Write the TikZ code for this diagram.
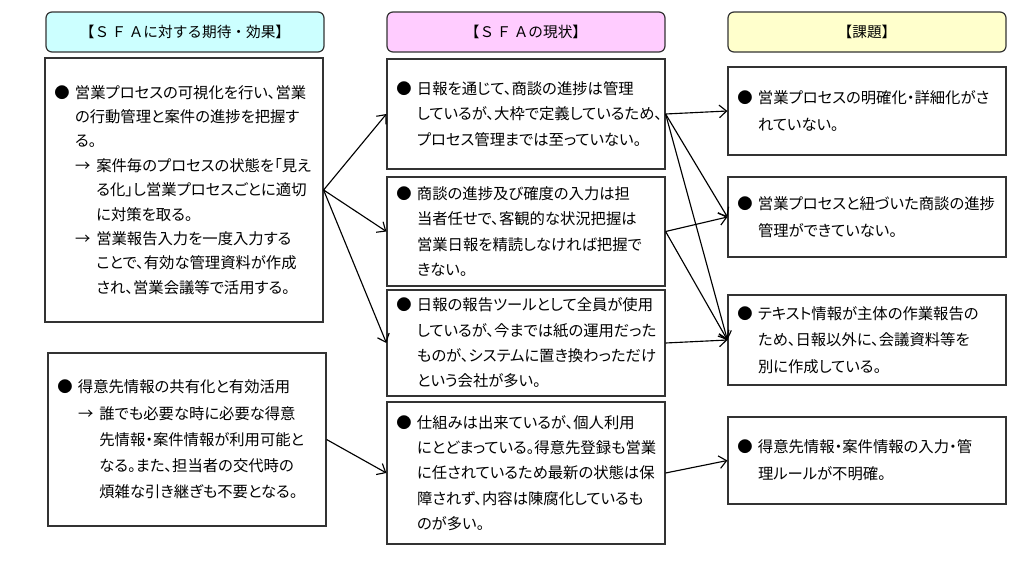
\documentclass[tikz,border=0pt]{standalone}
\usepackage{fontspec}
\setmainfont{Noto Sans CJK JP}[RawFeature=+palt]
\newfontfamily\jpfix{Noto Sans CJK JP}
\usetikzlibrary{arrows.meta}
\definecolor{hdcyan}{RGB}{204,255,255}
\definecolor{hdpink}{RGB}{255,204,255}
\definecolor{hdyellow}{RGB}{255,255,204}
\newcommand{\bul}{\makebox[15.5pt][l]{●}}
\newcommand{\ind}{\hspace*{15.5pt}}
\newcommand{\arr}{\hspace*{15.5pt}\makebox[16pt][l]{→}}
\newcommand{\ain}{\hspace*{31.5pt}}

\begin{document}
\begin{tikzpicture}[x=0.75pt,y=-0.75pt,
  head/.style={draw=black!80,line width=0.9pt,rounded corners=4.5pt,minimum width=208.5pt,minimum height=30pt,inner sep=0pt,font=\jpfix\fontsize{11pt}{14pt}\selectfont},
  box/.style={draw=black!80,line width=0.9pt,fill=white,inner xsep=7pt,inner ysep=0pt,text width=194.5pt,align=left,font=\fontsize{11.5pt}{19pt}\selectfont},
  rbox/.style={box,font=\fontsize{11.5pt}{20pt}\selectfont},
  link/.style={-{Straight Barb[length=5.5pt,width=9.5pt]},line width=0.85pt}]
\fill[white] (0,0) rectangle (1024,564);
\useasboundingbox (0,0) rectangle (1024,564);
% headers
\node[head,fill=hdcyan] (hexp) at (185,32) {【Ｓ\,Ｆ\,Ａに対する期待・効果】};
\node[head,fill=hdpink] (hnow) at (526,32) {【Ｓ\,Ｆ\,Ａの現状】};
\node[head,fill=hdyellow] (hiss) at (867,32) {【課題】};
% expectations
\node[box,minimum height=198pt,font=\fontsize{11.5pt}{18.3pt}\selectfont] (l1) at (184,190) {\bul 営業プロセスの可視化を行い、営業\\
\ind の行動管理と案件の進捗を把握す\\
\ind る。\\
\arr 案件毎のプロセスの状態を「見え\\
\ain る化」し営業プロセスごとに適切\\
\ain に対策を取る。\\
\arr 営業報告入力を一度入力する\\
\ain ことで、有効な管理資料が作成\\
\ain され、営業会議等で活用する。};
\node[box,minimum height=129.75pt,font=\fontsize{11.5pt}{19.7pt}\selectfont] (l2) at (187,439.5) {\bul 得意先情報の共有化と有効活用\\
\arr 誰でも必要な時に必要な得意\\
\ain 先情報・案件情報が利用可能と\\
\ain なる。また、担当者の交代時の\\
\ain 煩雑な引き継ぎも不要となる。};
% current state
\node[box,minimum height=82.5pt] (m1) at (526,114) {\bul 日報を通じて、商談の進捗は管理\\
\ind しているが、大枠で定義しているため、\\
\ind プロセス管理までは至っていない。};
\node[box,minimum height=81.75pt] (m2) at (526,231.5) {\bul 商談の進捗及び確度の入力は担\\
\ind 当者任せで、客観的な状況把握は\\
\ind 営業日報を精読しなければ把握で\\
\ind きない。};
\node[box,minimum height=79.5pt] (m3) at (526,343) {\bul 日報の報告ツールとして全員が使用\\
\ind しているが、今までは紙の運用だった\\
\ind ものが、システムに置き換わっただけ\\
\ind という会社が多い。};
\node[box,minimum height=106.5pt] (m4) at (526,473) {\bul 仕組みは出来ているが、個人利用\\
\ind にとどまっている。得意先登録も営業\\
\ind に任されているため最新の状態は保\\
\ind 障されず、内容は陳腐化しているも\\
\ind のが多い。};
% issues
\node[rbox,minimum height=66pt] (r1) at (867,111) {\bul 営業プロセスの明確化・詳細化がさ\\
\ind れていない。};
\node[rbox,minimum height=60pt] (r2) at (867,217) {\bul 営業プロセスと紐づいた商談の進捗\\
\ind 管理ができていない。};
\node[rbox,minimum height=67.5pt] (r3) at (867,340) {\bul テキスト情報が主体の作業報告の\\
\ind ため、日報以外に、会議資料等を\\
\ind 別に作成している。};
\node[rbox,minimum height=65.25pt] (r4) at (867,460.5) {\bul 得意先情報・案件情報の入力・管\\
\ind 理ルールが不明確。};
% links
\draw[link] (l1.east) -- (m1.west);
\draw[link] (l1.east) -- (m2.west);
\draw[link] (l1.east) -- (m3.west);
\draw[link] (l2.east) -- (m4.west);
\draw[link] (m1.east) -- (r1.west);
\draw[link] (m1.east) -- (r2.west);
\draw[link] (m1.east) -- (r3.west);
\draw[link] (m2.east) -- (r2.west);
\draw[link] (m2.east) -- (r3.west);
\draw[link] (m3.east) -- (r3.west);
\draw[link] (m4.east) -- (r4.west);
\end{tikzpicture}
\end{document}
